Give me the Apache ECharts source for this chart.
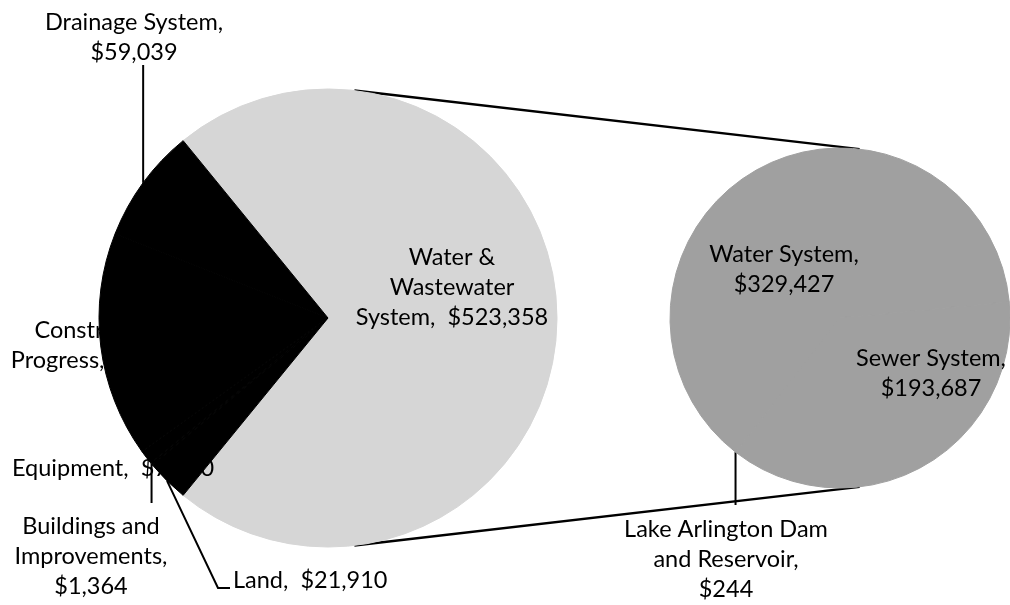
<!DOCTYPE html>
<html><head><meta charset="utf-8">
<script src="https://cdn.jsdelivr.net/npm/echarts@6/dist/echarts.min.js"></script>
<style>html,body{margin:0;padding:0;background:#fff}#c{width:1010px;height:605px}</style>
</head><body><div id="c"></div>
<script>
// ---- data ----
const mainCategories = ['Water & Wastewater System', 'Land', 'Buildings and Improvements', 'Equipment', 'Construction in Progress', 'Drainage System'];
const mainLabelNames = ['Water &\nWastewater\nSystem,  ', 'Land,  ', 'Buildings and\nImprovements,\n', 'Equipment,  ', 'Construction in\nProgress,  ', 'Drainage System,\n'];
const mainValues = [523358, 21910, 1364, 7360, 115866, 59039];
const subCategories = ['Water System', 'Sewer System', 'Lake Arlington Dam and Reservoir'];
const subLabelNames = ['Water System,\n', 'Sewer System,\n', 'Lake Arlington Dam\nand Reservoir,\n'];
const subValues = [329427, 193687, 244];

// ---- layout / style ----
const MAIN_C = [328, 318], MAIN_R = 229;
const SUB_C = [840, 318], SUB_R = 170;
const mainColors = ['#d6d6d6', '#000', '#000', '#000', '#000', '#000'];
const subColors = ['#a0a0a0', '#a0a0a0', '#a0a0a0'];
const FONT = 'Lato';
const mainLabelPos = [
  {x: 452, y: 287, align: 'center'},
  {x: 233, y: 580, align: 'left'},
  {x: 91, y: 556, align: 'center'},
  {x: 12, y: 468, align: 'left'},
  {x: 114, y: 345, align: 'center'},
  {x: 134, y: 37, align: 'center'}
];
const subLabelPos = [
  {x: 784, y: 269, align: 'center'},
  {x: 931, y: 373, align: 'center'},
  {x: 726, y: 559, align: 'center'}
];
// leader line target ends (null = no leader)
const mainLeaderEnd = [null, 'land', 503, null, null, 65];
const subLeaderEnd = [null, null, 505];

const fmt = v => '$' + v.toLocaleString('en-US');
const mainTotal = mainValues.reduce((a, b) => a + b, 0);
const mainStart = 180 * mainValues[0] / mainTotal;

const chart = echarts.init(document.getElementById('c'), null, {renderer: 'canvas'});

function mkData(cats, vals, labelNames, colors, leaders) {
  return cats.map((c, i) => ({
    name: c, value: vals[i],
    itemStyle: {color: colors[i], borderColor: colors[i], borderWidth: 1},
    label: {formatter: labelNames[i] + fmt(vals[i])},
    labelLine: {show: leaders[i] !== null, lineStyle: {color: '#000', width: 2}}
  }));
}

function layoutFn(posArr, leaders) {
  return function (p) {
    const pos = posArr[p.dataIndex];
    const res = {x: pos.x, y: pos.y, align: pos.align, verticalAlign: 'middle'};
    const lead = leaders[p.dataIndex];
    if (lead !== null && p.labelLinePoints) {
      const a = p.labelLinePoints[0];
      if (lead === 'land') {
        res.labelLinePoints = [[a[0], a[1]], [218, 588], [230, 588]];
      } else {
        res.labelLinePoints = [[a[0], a[1]], [a[0], lead], [a[0], lead]];
      }
    }
    return res;
  };
}

// external common tangents between the two pies
function tangents() {
  const dx = SUB_C[0] - MAIN_C[0];
  const th = Math.asin((MAIN_R - SUB_R) / dx);
  const out = [];
  [1, -1].forEach(s => {
    const phi = Math.PI / 2 - th;
    const ux = Math.cos(phi), uy = -s * Math.sin(phi);
    out.push({
      type: 'line', z: 0,
      shape: {x1: MAIN_C[0] + MAIN_R * ux, y1: MAIN_C[1] + MAIN_R * uy, x2: SUB_C[0] + SUB_R * ux, y2: SUB_C[1] + SUB_R * uy},
      style: {stroke: '#000', lineWidth: 2.5}
    });
  });
  return out;
}

const labelBase = {show: true, color: '#000', fontFamily: FONT, fontSize: 23.5, lineHeight: 30, position: 'outside'};

chart.setOption({
  animation: false,
  backgroundColor: '#fff',
  graphic: tangents(),
  series: [
    {
      type: 'pie', center: MAIN_C, radius: MAIN_R, startAngle: mainStart, clockwise: true,
      avoidLabelOverlap: false, silent: true,
      label: labelBase,
      labelLine: {length: 10, length2: 10},
      labelLayout: layoutFn(mainLabelPos, mainLeaderEnd),
      data: mkData(mainCategories, mainValues, mainLabelNames, mainColors, mainLeaderEnd)
    },
    {
      type: 'pie', center: SUB_C, radius: SUB_R, startAngle: 232, clockwise: true,
      avoidLabelOverlap: false, silent: true,
      label: labelBase,
      labelLine: {length: 10, length2: 10},
      labelLayout: layoutFn(subLabelPos, subLeaderEnd),
      data: mkData(subCategories, subValues, subLabelNames, subColors, subLeaderEnd)
    }
  ]
});
</script>
</body></html>
